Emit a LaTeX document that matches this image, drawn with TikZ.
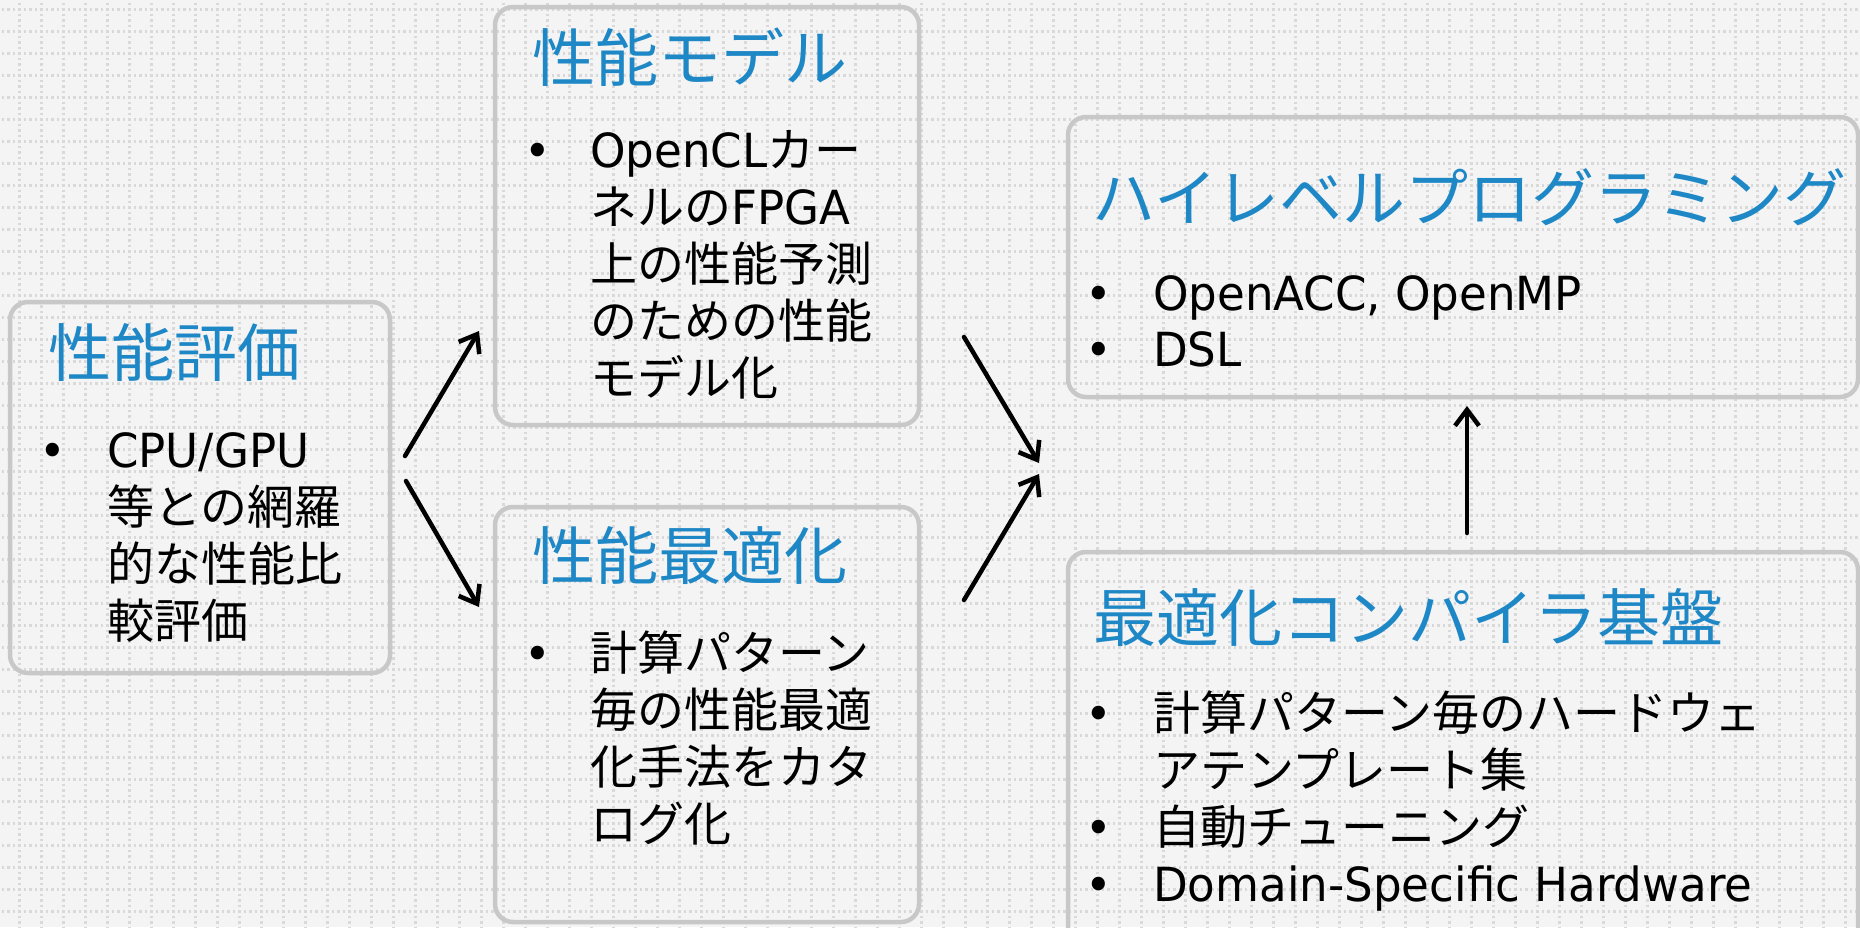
\documentclass[tikz,border=0pt]{standalone}
\usepackage{fontspec}
\newfontfamily\jp{Noto Sans CJK JP}
\newfontfamily\lat[FakeStretch=0.96]{DejaVu Sans}
\usetikzlibrary{arrows.meta}
\definecolor{bg}{HTML}{F4F4F4}
\definecolor{griddot}{HTML}{D9D9D9}
\definecolor{boxline}{HTML}{C8C8C8}
\definecolor{titleblue}{HTML}{1E87C6}
\begin{document}
\begin{tikzpicture}[x=1pt,y=-1pt,
  panel/.style={draw=boxline, line width=4.5pt, rounded corners=18pt, inner sep=0pt},
  ttl/.style={anchor=base west, inner sep=0pt, text=titleblue, font=\jp\fontsize{63}{70}\selectfont},
  body/.style={anchor=base west, inner sep=0pt, font=\jp\fontsize{47}{57}\selectfont},
  bul/.style={anchor=base, inner sep=0pt, font=\lat\fontsize{47}{57}\selectfont},
  conn/.style={line width=4.5pt, -{Straight Barb[length=16pt,width=24pt]}, line cap=round, line join=round},
  gridline/.style={draw=griddot, line width=2.5pt, dash pattern=on 2.5pt off 3pt}
]
\useasboundingbox (0,0) rectangle (1860,927);
\fill[bg] (0,0) rectangle (1860,927);
\begin{scope}
\clip (0,0) rectangle (1860,927);
\foreach \k in {0,...,41} \draw[gridline] (-3.95,{9.3+22*\k}) -- (1870,{9.3+22*\k});
\foreach \k in {-1,...,83} \draw[gridline] ({19.3+22*\k},-13.95) -- ({19.3+22*\k},940);

% panels
\node[panel, minimum width=380pt, minimum height=371pt] (eval) at (200,487.5) {};
\node[panel, minimum width=424pt, minimum height=418pt] (model) at (707,216) {};
\node[panel, minimum width=424pt, minimum height=415pt] (opt) at (707,714.5) {};
\node[panel, minimum width=790pt, minimum height=280pt] (hlp) at (1463,257) {};
\node[panel, minimum width=790pt, minimum height=408pt] (comp) at (1463,756) {};

% panel 1
\node[ttl] (t1) at (48,376) {性能評価};
\node[bul] (b11) at (53,467) {•};
\node[body] (l11) at (107,467) {{\lat CPU/GPU}};
\node[body] (l12) at (107,524) {等との網羅};
\node[body] (l13) at (107,581) {的な性能比};
\node[body] (l14) at (107,638) {較評価};

% panel 2
\node[ttl] (t2) at (532,81) {性能モデル};
\node[bul] (b21) at (538,167) {•};
\node[body] (l21) at (590,167) {{\lat OpenCL}カー};
\node[body] (l22) at (590,224) {ネルの{\lat FPGA}};
\node[body] (l23) at (590,281) {上の性能予測};
\node[body] (l24) at (590,338) {のための性能};
\node[body] (l25) at (590,395) {モデル化};

% panel 3
\node[ttl] (t3) at (532,579) {性能最適化};
\node[bul] (b31) at (538,670) {•};
\node[body] (l31) at (590,670) {計算パターン};
\node[body] (l32) at (590,727) {毎の性能最適};
\node[body] (l33) at (590,784) {化手法をカタ};
\node[body] (l34) at (590,841) {ログ化};

% panel 4
\node[ttl] (t4) at (1092,221) {ハイレベルプログラミング};
\node[bul] (b41) at (1099,310) {•};
\node[body] (l41) at (1153,310) {{\lat OpenACC, OpenMP}};
\node[bul] (b42) at (1099,366) {•};
\node[body] (l42) at (1153,366) {{\lat DSL}};

% panel 5
\node[ttl] (t5) at (1093,641) {最適化コンパイラ基盤};
\node[bul] (b51) at (1099,730) {•};
\node[body] (l51) at (1153,730) {計算パターン毎のハードウェ};
\node[body] (l52) at (1153,787) {アテンプレート集};
\node[bul] (b53) at (1099,844) {•};
\node[body] (l53) at (1153,844) {自動チューニング};
\node[bul] (b54) at (1099,901) {•};
\node[body] (l54) at (1153,901) {{\lat Domain-Specific Hardware}};

% connectors
\coordinate (a1s) at (405,456);
\coordinate (a1e) at (479,331);
\coordinate (a2s) at (406,481);
\coordinate (a2e) at (479,607);
\coordinate (a3s) at (964,337);
\coordinate (a3e) at (1039,463);
\coordinate (a4s) at (964,600);
\coordinate (a4e) at (1039,474);
\coordinate (a5s) at (1467,533);
\coordinate (a5e) at (1467,406);
\draw[conn] (a1s) -- (a1e);
\draw[conn] (a2s) -- (a2e);
\draw[conn] (a3s) -- (a3e);
\draw[conn] (a4s) -- (a4e);
\draw[conn] (a5s) -- (a5e);
\end{scope}
\end{tikzpicture}
\end{document}
